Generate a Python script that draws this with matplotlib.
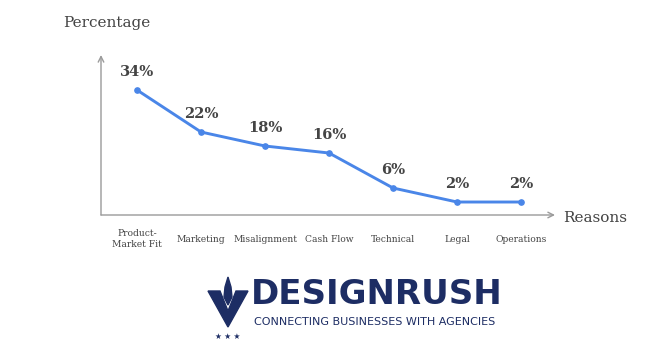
import matplotlib
matplotlib.use("Agg")
import matplotlib.pyplot as plt
from matplotlib.patches import Polygon

categories = ["Product-\nMarket Fit", "Marketing", "Misalignment", "Cash Flow",
              "Technical", "Legal", "Operations"]
values = [34, 22, 18, 16, 6, 2, 2]
labels = ["34%", "22%", "18%", "16%", "6%", "2%", "2%"]

W, H = 650, 349
fig = plt.figure(figsize=(W / 100, H / 100), dpi=100)
fig.patch.set_facecolor("white")

ax = fig.add_axes([101 / W, (H - 215) / H, 454 / W, 160 / H])
ax.set_xlim(-0.5625, 6.53)
ax.set_ylim(-1.71, 44)
for s in ax.spines.values():
    s.set_visible(False)
ax.set_xticks([])
ax.set_yticks([])

grey = "#9a9a9a"
ax.annotate("", xy=(0, 1), xytext=(0, 0), xycoords="axes fraction",
            arrowprops=dict(arrowstyle="->", color=grey, lw=1.0, shrinkA=0, shrinkB=0))
ax.annotate("", xy=(1, 0), xytext=(0, 0), xycoords="axes fraction",
            arrowprops=dict(arrowstyle="->", color=grey, lw=1.0, shrinkA=0, shrinkB=0))

x = list(range(len(values)))
ax.plot(x, values, color="#4a86e8", lw=2.1, marker="o", markersize=3.8, zorder=3)

serif = ["DejaVu Serif"]
for xi, v, lab in zip(x, values, labels):
    ax.annotate(lab, (xi, v), xytext=(0, 8), textcoords="offset points",
                ha="center", va="bottom", fontsize=10.5, fontweight="bold",
                color="#444444", family=serif)

for xi, c in zip(x, categories):
    ax.text(xi, -8.6, c, ha="center", va="center", fontsize=6.6,
            color="#444444", family=serif, linespacing=1.3, clip_on=False)

fig.text(63 / W, 1 - 23 / H, "Percentage", ha="left", va="center", fontsize=11,
         color="#444444", family=serif)
fig.text(563 / W, 1 - 218 / H, "Reasons", ha="left", va="center", fontsize=11,
         color="#444444", family=serif)

# Logo
navy = "#1d2d64"
fig.text(251 / W, 1 - 294 / H, "DESIGNRUSH", ha="left", va="center", fontsize=24.5,
         fontweight="bold", color=navy, family=["DejaVu Sans"])
fig.text(254 / W, 1 - 322 / H, "CONNECTING BUSINESSES WITH AGENCIES", ha="left",
         va="center", fontsize=8.0, color=navy, family=["DejaVu Sans"])

lax = fig.add_axes([200 / W, 0, 55 / W, 80 / H])
lax.set_xlim(0, 55)
lax.set_ylim(0, 80)
lax.axis("off")
lax.add_patch(Polygon([[8, 58], [20, 58], [28, 38], [36, 58], [48, 58], [28, 22]],
                      closed=True, color=navy))
lax.add_patch(Polygon([[24, 52], [28, 44], [32, 52], [31, 62], [28, 72], [25, 62]],
                      closed=True, color=navy))
lax.text(28, 13, "★ ★ ★", ha="center", va="center", fontsize=5.5, color=navy,
         family=["DejaVu Sans"])

fig.savefig("out.png", dpi=100, facecolor="white")
